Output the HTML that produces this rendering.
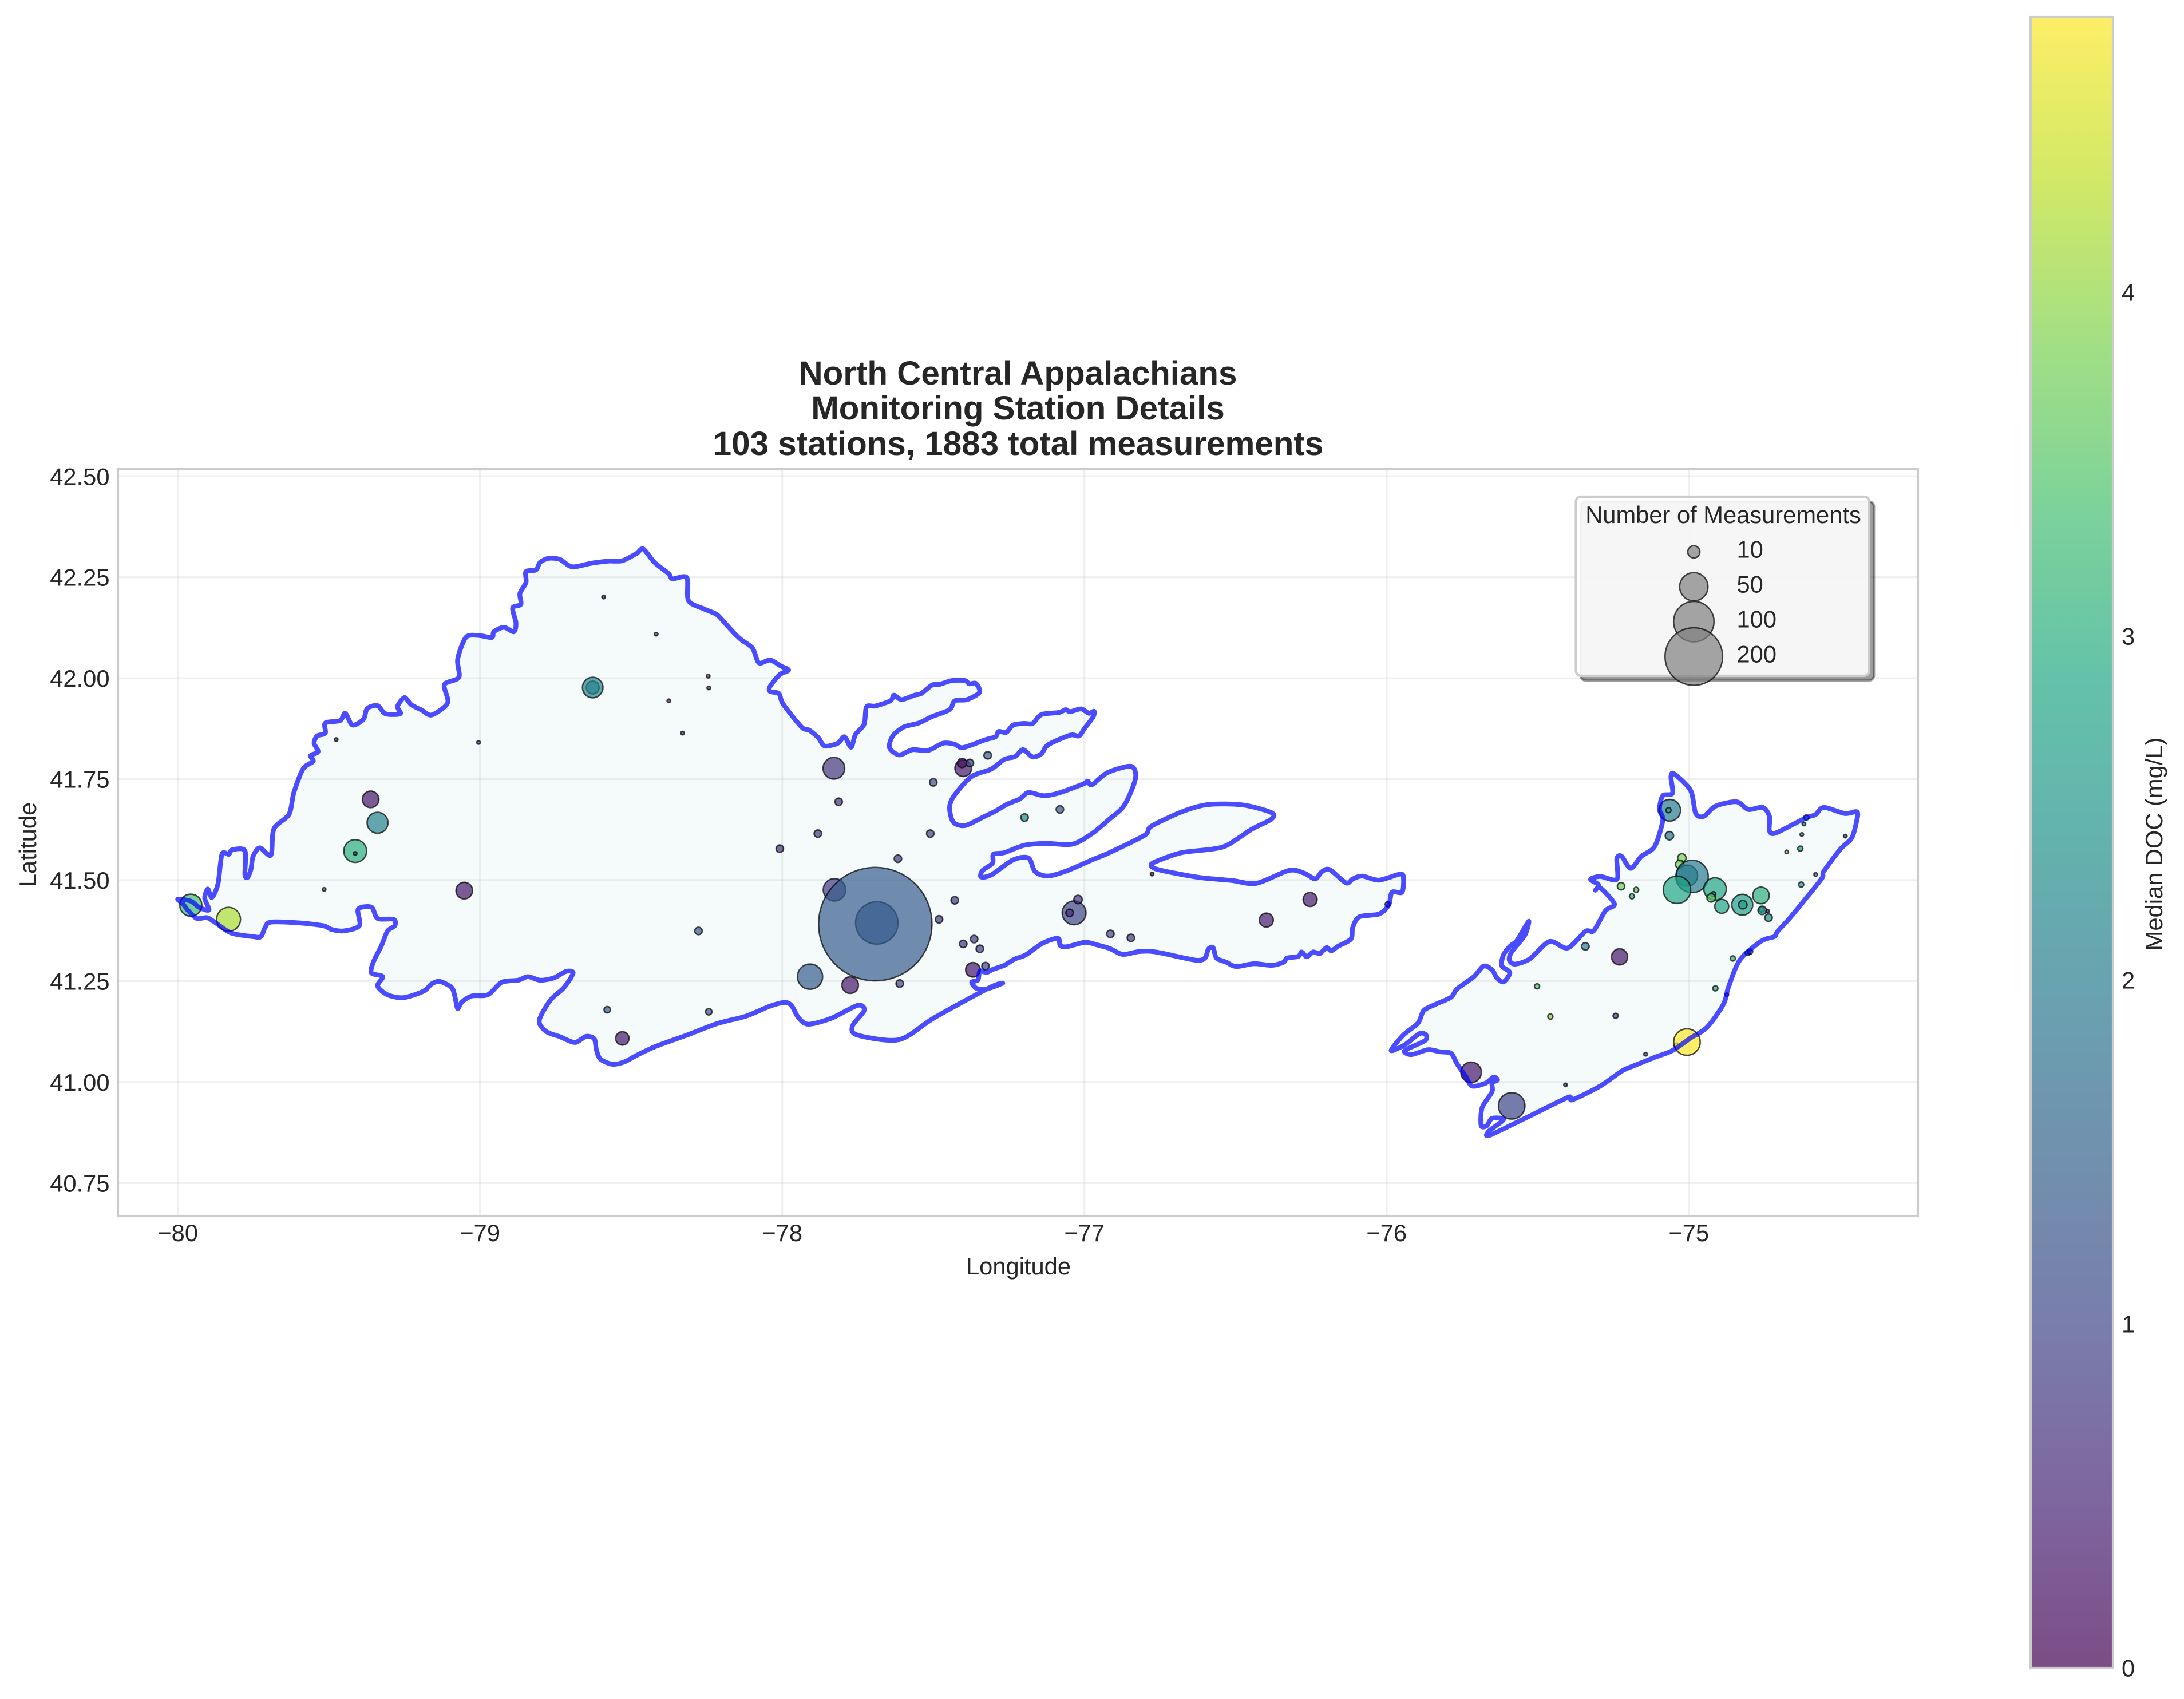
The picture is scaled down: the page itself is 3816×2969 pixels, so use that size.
<!DOCTYPE html>
<html lang="en">
<head>
<meta charset="utf-8">
<title>North Central Appalachians - Monitoring Station Details</title>
<style>
html,body{margin:0;padding:0;background:#fff;}
body{width:3816px;height:2969px;overflow:hidden;position:relative;}
svg{position:absolute;left:0;top:0;display:block;}
text{font-family:"Liberation Sans",Arial,sans-serif;fill:#262626;}
</style>
</head>
<body>
<svg id="chart" xmlns="http://www.w3.org/2000/svg" width="3816" height="2969" viewBox="0 0 3816 2969">
  <defs>
    <linearGradient id="viridis-gradient" x1="0" y1="1" x2="0" y2="0"></linearGradient>
  </defs>
  <rect x="0" y="0" width="3816" height="2969" fill="#ffffff"/>
  <g id="grid-layer"></g>
  <g id="fill-layer"></g>
  <g id="station-layer"></g>
  <g id="boundary-layer"></g>
  <rect x="206" y="820" width="3145" height="1305" fill="none" stroke="#cccccc" stroke-width="4.17"/>
  <g id="tick-layer" font-size="41.67"></g>

  <g font-size="58.33" font-weight="bold" text-anchor="middle">
    <text x="1778.5" y="672">North Central Appalachians</text>
    <text x="1778.5" y="733">Monitoring Station Details</text>
    <text x="1779" y="795">103 stations, 1883 total measurements</text>
  </g>
  <text x="1779.5" y="2227" font-size="41.67" text-anchor="middle">Longitude</text>
  <text x="0" y="0" font-size="41.67" text-anchor="middle" transform="translate(63 1476) rotate(-90)">Latitude</text>

  <g id="legend">
    <rect x="2761.8" y="876.3" width="512.5" height="313" rx="9" fill="#000000" fill-opacity="0.38" stroke="#000000" stroke-opacity="0.38" stroke-width="4.17"/>
    <rect x="2753.5" y="868" width="512.5" height="313" rx="9" fill="#ffffff" fill-opacity="0.9" stroke="#cccccc" stroke-width="4.17"/>
    <text x="3011" y="914" font-size="41.67" text-anchor="middle">Number of Measurements</text>
    <g id="legend-entries" font-size="41.67"></g>
  </g>

  <rect id="colorbar-ramp" x="3548" y="30" width="144" height="2885" fill="url(#viridis-gradient)" fill-opacity="0.7"/>
  <rect x="3548" y="30" width="144" height="2885" fill="none" stroke="#cccccc" stroke-width="4.17"/>
  <g id="colorbar-ticks" font-size="41.67"></g>
  <text x="0" y="0" font-size="41.67" text-anchor="middle" transform="translate(3778 1475) rotate(-90)">Median DOC (mg/L)</text>
</svg>

<script>
const xTicks = [-80, -79, -78, -77, -76, -75];
const yTicks = [40.75, 41.00, 41.25, 41.50, 41.75, 42.00, 42.25, 42.50];
const colorbarTicks = [0, 1, 2, 3, 4];
const legendCounts = [10, 50, 100, 200];
const docMax = 4.8;

const viridisStops = ['#440154','#482475','#414487','#355f8d','#2a788e','#21918c','#22a884','#44bf70','#7ad151','#bddf26','#fde725'];

const stationLon = [-79.957,-79.832,-79.516,-79.413,-79.413,-79.339,-79.362,-79.052,-79.005,-79.476,-78.591,-78.417,-78.245,-78.243,-78.375,-78.330,-78.627,-78.627,-78.277,-78.579,-78.243,-78.529,
-77.829,-77.813,-77.882,-78.008,-77.617,-77.500,-77.510,-77.401,-77.405,-77.379,-77.320,-77.198,-77.081,-76.776,-77.827,-77.687,-77.692,-77.908,-77.775,-77.611,-77.429,-77.481,-77.401,-77.365,-77.346,-77.369,-77.327,-77.034,-77.049,-77.021,-76.914,-76.846,-76.398,-76.253,-75.996,
-75.063,-75.067,-75.064,-75.023,-75.030,-75.006,-74.989,-75.039,-74.913,-74.891,-74.919,-74.926,-74.823,-74.821,-74.761,-74.758,-74.757,-74.739,-74.736,-75.224,-75.174,-75.188,-75.229,-74.854,-74.805,-74.797,-74.912,-74.874,-74.611,-74.619,-74.626,-74.631,-74.676,-74.482,-74.580,-74.628,
-75.342,-75.502,-75.458,-75.242,-75.143,-75.408,-75.039,-75.006,-75.720,-75.586];
const stationLat = [41.438,41.403,41.477,41.572,41.566,41.642,41.700,41.474,41.841,41.848,42.201,42.109,42.005,41.976,41.944,41.864,41.977,41.977,41.374,41.179,41.174,41.108,
41.777,41.694,41.615,41.578,41.553,41.742,41.615,41.777,41.790,41.790,41.809,41.655,41.675,41.515,41.476,41.394,41.391,41.261,41.240,41.244,41.450,41.403,41.342,41.354,41.330,41.278,41.287,41.419,41.419,41.452,41.367,41.357,41.401,41.452,41.440,
41.673,41.673,41.610,41.555,41.539,41.511,41.509,41.476,41.478,41.435,41.465,41.456,41.439,41.439,41.462,41.427,41.425,41.423,41.407,41.485,41.476,41.460,41.310,41.306,41.320,41.323,41.232,41.216,41.655,41.639,41.613,41.578,41.570,41.609,41.514,41.489,
41.336,41.237,41.162,41.164,41.069,40.993,41.090,41.099,41.024,40.941];
const stationCount = [31,36,1,33,1,28,18,18,1,1,1,1,1,1,1,1,11,27,4,3,3,12,
30,4,4,4,4,4,4,18,6,4,4,4,4,1,32,110,762,40,18,4,4,4,4,4,4,14,4,36,4,5,4,4,13,13,2,
30,2,5,5,5,29,65,47,32,13,2,5,28,5,18,2,5,1,4,4,2,2,17,2,2,2,2,1,2,1,1,2,1,1,1,2,
4,2,2,2,1,1,2,44,27,44];
const stationDoc = [3.3,4.2,1.0,3.0,1.0,2.1,0.3,0.3,1.0,0.5,0.5,0.7,0.5,0.8,0.5,0.8,2.3,2.1,1.3,1.3,1.1,0.3,
0.75,0.7,0.8,0.7,0.8,1.2,0.9,0.3,0.2,1.1,1.5,2.2,1.3,0.3,0.8,1.3,1.4,1.4,0.3,1.0,0.8,0.8,0.8,0.8,0.9,0.3,1.0,1.0,0.6,0.7,1.0,0.8,0.35,0.35,0.5,
2.0,2.8,1.8,3.8,3.8,2.1,2.0,2.8,2.8,2.8,2.0,3.6,2.7,2.6,3.0,2.5,2.5,0.3,2.3,3.7,3.5,3.0,0.3,3.0,2.0,1.2,3.0,1.0,3.0,2.0,2.0,2.7,3.9,0.9,1.3,2.6,
2.0,3.5,4.0,1.1,1.3,0.5,4.6,4.8,0.3,1.0];

const westBoundary = [[-79.9998,41.453],[-79.957,41.448],[-79.928,41.432],[-79.897,41.426],[-79.911,41.455],[-79.901,41.478],[-79.887,41.457],[-79.867,41.491],[-79.854,41.564],[-79.831,41.564],[-79.820,41.575],[-79.778,41.573],[-79.778,41.514],[-79.769,41.507],[-79.758,41.527],[-79.751,41.559],[-79.729,41.580],[-79.692,41.562],[-79.682,41.627],[-79.632,41.663],[-79.616,41.717],[-79.585,41.776],[-79.552,41.794],[-79.561,41.808],[-79.536,41.818],[-79.549,41.839],[-79.539,41.857],[-79.512,41.864],[-79.512,41.889],[-79.463,41.895],[-79.446,41.913],[-79.422,41.884],[-79.386,41.898],[-79.373,41.925],[-79.339,41.932],[-79.313,41.912],[-79.264,41.912],[-79.273,41.930],[-79.250,41.952],[-79.227,41.934],[-79.193,41.921],[-79.160,41.909],[-79.107,41.939],[-79.118,41.984],[-79.070,42.002],[-79.074,42.047],[-79.047,42.101],[-79.007,42.106],[-78.961,42.101],[-78.954,42.115],[-78.921,42.126],[-78.888,42.115],[-78.881,42.137],[-78.892,42.174],[-78.865,42.183],[-78.868,42.210],[-78.848,42.237],[-78.848,42.264],[-78.815,42.268],[-78.801,42.287],[-78.772,42.297],[-78.735,42.294],[-78.695,42.276],[-78.629,42.285],[-78.575,42.290],[-78.529,42.291],[-78.482,42.309],[-78.460,42.320],[-78.423,42.287],[-78.376,42.259],[-78.363,42.246],[-78.316,42.249],[-78.310,42.192],[-78.257,42.171],[-78.217,42.158],[-78.190,42.137],[-78.157,42.110],
[-78.135,42.095],[-78.098,42.074],[-78.077,42.038],[-78.040,42.045],[-78.004,42.030],[-77.979,42.020],[-78.008,42.009],[-78.040,41.980],[-78.040,41.967],[-78.011,41.962],[-77.997,41.936],[-77.936,41.879],[-77.910,41.871],[-77.881,41.853],[-77.859,41.832],[-77.816,41.839],[-77.794,41.855],[-77.772,41.829],[-77.758,41.860],[-77.729,41.886],[-77.721,41.929],[-77.692,41.931],[-77.642,41.944],[-77.630,41.958],[-77.605,41.947],[-77.562,41.958],[-77.540,41.962],[-77.504,41.983],[-77.478,41.985],[-77.439,41.994],[-77.395,41.994],[-77.381,41.986],[-77.359,41.987],[-77.347,41.965],[-77.388,41.947],[-77.429,41.944],[-77.446,41.922],[-77.504,41.905],[-77.548,41.889],[-77.598,41.879],[-77.634,41.857],[-77.645,41.828],[-77.613,41.810],[-77.569,41.823],[-77.518,41.821],[-77.468,41.839],[-77.431,41.837],[-77.402,41.828],[-77.330,41.847],[-77.294,41.855],[-77.284,41.868],[-77.258,41.866],[-77.236,41.884],[-77.200,41.888],[-77.171,41.888],[-77.142,41.910],[-77.084,41.915],[-77.062,41.922],[-77.047,41.917],[-77.011,41.924],[-76.985,41.913],[-76.968,41.918],[-76.971,41.904],[-77.000,41.875],[-77.018,41.857],[-77.047,41.859],[-77.120,41.835],[-77.142,41.813],[-77.171,41.805],[-77.203,41.823],[-77.229,41.806],[-77.265,41.799],[-77.308,41.775],[-77.374,41.756],[-77.431,41.709],[-77.446,41.680],[-77.434,41.644],[-77.395,41.635],[-77.330,41.658],[-77.294,41.671],[-77.258,41.687],[-77.214,41.701],[-77.185,41.717],[-77.134,41.709],[-77.084,41.716],[-77.004,41.738],[-76.989,41.745],[-76.975,41.736],[-76.924,41.766],[-76.847,41.782],[-76.830,41.759],[-76.845,41.720],[-76.873,41.680],[-76.917,41.651],[-76.975,41.615],[-77.040,41.589],[-77.127,41.591],[-77.200,41.586],[-77.265,41.568],[-77.301,41.564],[-77.304,41.542],[-77.337,41.524],[-77.342,41.508],[-77.308,41.513],[-77.236,41.550],[-77.185,41.555],[-77.163,41.521],[-77.120,41.510],[-77.055,41.524],[-76.975,41.550],[-76.917,41.568],[-76.801,41.611],[-76.779,41.633],[-76.678,41.669],[-76.591,41.687],[-76.475,41.686],[-76.381,41.667],[-76.381,41.651],[-76.446,41.626],[-76.526,41.587],[-76.576,41.577],[-76.678,41.568],[-76.750,41.550],[-76.779,41.539],[-76.765,41.528],[-76.699,41.517],[-76.613,41.506],[-76.511,41.499],[-76.431,41.492],[-76.323,41.524],[-76.272,41.517],[-76.236,41.503],[-76.214,41.521],[-76.188,41.526],[-76.134,41.493],
[-76.112,41.503],[-76.080,41.510],[-76.025,41.500],[-75.954,41.515],[-75.944,41.503],[-75.949,41.470],[-75.982,41.470],[-75.993,41.438],[-76.025,41.416],[-76.090,41.409],[-76.112,41.383],[-76.118,41.354],[-76.161,41.336],[-76.183,41.325],[-76.199,41.333],[-76.221,41.318],[-76.243,41.322],[-76.264,41.310],[-76.281,41.322],[-76.292,41.311],[-76.330,41.307],[-76.340,41.297],[-76.379,41.289],[-76.438,41.293],[-76.498,41.286],[-76.531,41.297],[-76.563,41.307],[-76.574,41.333],[-76.590,41.329],[-76.601,41.307],[-76.634,41.302],[-76.764,41.322],[-76.819,41.323],[-76.873,41.316],[-76.917,41.331],[-76.960,41.340],[-76.998,41.346],[-77.058,41.335],[-77.080,41.338],[-77.088,41.356],[-77.140,41.343],[-77.194,41.315],[-77.232,41.304],[-77.265,41.289],[-77.303,41.279],[-77.324,41.271],[-77.346,41.275],[-77.352,41.253],[-77.373,41.247],[-77.357,41.232],[-77.324,41.230],[-77.270,41.245],[-77.316,41.233],
[-77.497,41.159],[-77.613,41.105],[-77.750,41.116],[-77.768,41.138],[-77.729,41.177],[-77.750,41.190],[-77.837,41.158],[-77.913,41.143],[-77.946,41.159],[-77.968,41.188],[-77.990,41.197],[-78.040,41.188],[-78.120,41.163],[-78.214,41.145],[-78.316,41.116],[-78.416,41.089],[-78.482,41.066],[-78.522,41.050],[-78.562,41.044],[-78.602,41.057],[-78.615,41.080],[-78.622,41.107],[-78.649,41.113],[-78.686,41.098],[-78.735,41.112],[-78.781,41.125],[-78.804,41.152],[-78.768,41.202],[-78.722,41.234],[-78.692,41.270],[-78.715,41.274],[-78.755,41.258],[-78.801,41.252],[-78.841,41.261],[-78.874,41.252],[-78.928,41.247],[-78.974,41.216],[-79.027,41.213],[-79.060,41.198],[-79.074,41.182],[-79.083,41.211],[-79.094,41.234],[-79.133,41.249],[-79.160,41.243],[-79.187,41.225],[-79.253,41.209],[-79.306,41.216],[-79.339,41.238],[-79.322,41.261],[-79.359,41.270],[-79.353,41.297],[-79.326,41.338],[-79.306,41.374],[-79.282,41.387],[-79.286,41.403],[-79.339,41.405],[-79.359,41.433],[-79.403,41.428],[-79.399,41.387],[-79.452,41.374],[-79.492,41.378],[-79.519,41.387],[-79.598,41.394],[-79.692,41.396],[-79.711,41.383],[-79.725,41.360],[-79.751,41.360],[-79.824,41.369],[-79.878,41.396],[-79.904,41.407],[-79.937,41.405],[-79.964,41.423],[-79.984,41.442]];

const eastBoundary = [[-75.985,41.078],[-75.945,41.116],[-75.896,41.146],[-75.877,41.177],[-75.836,41.193],[-75.787,41.210],[-75.766,41.231],[-75.711,41.261],[-75.679,41.287],[-75.651,41.278],[-75.635,41.258],[-75.613,41.248],[-75.592,41.271],[-75.619,41.288],[-75.613,41.315],[-75.592,41.336],[-75.570,41.349],[-75.548,41.376],[-75.529,41.398],[-75.543,41.363],[-75.586,41.322],[-75.594,41.302],[-75.575,41.292],[-75.526,41.305],[-75.461,41.348],[-75.401,41.332],[-75.342,41.373],[-75.314,41.375],[-75.276,41.424],[-75.246,41.441],[-75.293,41.481],[-75.309,41.475],[-75.298,41.488],[-75.325,41.502],[-75.293,41.509],[-75.238,41.502],[-75.238,41.553],[-75.222,41.559],[-75.192,41.529],[-75.157,41.559],[-75.113,41.583],[-75.086,41.648],[-75.097,41.675],[-75.086,41.709],[-75.054,41.715],[-75.059,41.756],[-75.048,41.763],[-74.994,41.722],[-74.977,41.665],[-74.950,41.658],[-74.912,41.683],[-74.842,41.694],[-74.803,41.675],[-74.755,41.680],[-74.733,41.658],[-74.733,41.622],[-74.711,41.617],[-74.613,41.654],[-74.581,41.662],[-74.553,41.680],[-74.483,41.665],[-74.443,41.669],[-74.445,41.644],[-74.461,41.604],[-74.499,41.576],[-74.553,41.522],[-74.559,41.505],[-74.613,41.454],[-74.668,41.404],[-74.706,41.373],[-74.717,41.360],[-74.760,41.349],[-74.831,41.302],[-74.869,41.234],[-74.885,41.193],[-74.939,41.136],[-74.994,41.109],[-75.054,41.078],[-75.113,41.061],[-75.179,41.041],[-75.222,41.027],[-75.293,40.990],[-75.385,40.956],[-75.396,40.963],[-75.472,40.936],[-75.537,40.912],[-75.659,40.868],[-75.662,40.878],[-75.613,40.907],[-75.651,40.910],[-75.668,40.892],[-75.687,40.892],[-75.684,40.936],[-75.651,40.976],[-75.651,40.997],[-75.633,41.005],[-75.646,41.012],[-75.673,40.997],[-75.717,40.990],[-75.738,41.014],[-75.766,41.044],[-75.787,41.071],[-75.825,41.075],[-75.863,41.080],[-75.918,41.068],[-75.940,41.078],[-75.874,41.102],[-75.869,41.116],[-75.891,41.120],[-75.940,41.092]];

function xAxis(lon){ return 310.7 + (lon + 80) * 528; }
function yAxis(lat){ return 832.3 + (42.5 - lat) * 705.7; }
function cbAxis(v){ return 2915 - v * 601; }
function radius(n){ return Math.sqrt(13.15 * n + 4) - 1; }

function hexToRgb(h){ return [parseInt(h.slice(1,3),16), parseInt(h.slice(3,5),16), parseInt(h.slice(5,7),16)]; }
function viridis(t){
  t = Math.max(0, Math.min(1, t));
  const p = t * (viridisStops.length - 1);
  const i = Math.min(Math.floor(p), viridisStops.length - 2);
  const f = p - i;
  const a = hexToRgb(viridisStops[i]);
  const b = hexToRgb(viridisStops[i + 1]);
  const c = a.map(function(v, k){ return Math.round(v + (b[k] - v) * f); });
  return 'rgb(' + c.join(',') + ')';
}

const NS = 'http://www.w3.org/2000/svg';
function make(tag, attrs, parent){
  const el = document.createElementNS(NS, tag);
  Object.keys(attrs).forEach(function(k){ el.setAttribute(k, attrs[k]); });
  parent.appendChild(el);
  return el;
}
function label(v){ return String(v).replace('-', '\u2212'); }

const gridLayer = document.getElementById('grid-layer');
const tickLayer = document.getElementById('tick-layer');

xTicks.forEach(function(t){
  const line = make('line', {x1:xAxis(t), x2:xAxis(t), y1:820, y2:2125, stroke:'#cccccc', 'stroke-opacity':0.3, 'stroke-width':3.33}, gridLayer);
  
  
  const txt = make('text', {x:xAxis(t), y:2169, 'text-anchor':'middle'}, tickLayer);
  
  
  txt.textContent = label(t);
});
yTicks.forEach(function(t){
  const line = make('line', {x1:206, x2:3351, y1:yAxis(t), y2:yAxis(t), stroke:'#cccccc', 'stroke-opacity':0.3, 'stroke-width':3.33}, gridLayer);
  
  
  const txt = make('text', {x:191.5, y:yAxis(t) + 15, 'text-anchor':'end'}, tickLayer);
  
  
  txt.textContent = t.toFixed(2);
});

function smoothPath(points){
  const pts = points.map(function(p){ return [xAxis(p[0]), yAxis(p[1])]; });
  const n = pts.length;
  const k = 0.85 / 6;
  let d = 'M' + pts[0][0].toFixed(1) + ' ' + pts[0][1].toFixed(1);
  for (let i = 0; i < n; i++) {
    const p0 = pts[(i - 1 + n) % n];
    const p1 = pts[i];
    const p2 = pts[(i + 1) % n];
    const p3 = pts[(i + 2) % n];
    d += 'C' + (p1[0] + (p2[0] - p0[0]) * k).toFixed(1) + ' ' + (p1[1] + (p2[1] - p0[1]) * k).toFixed(1) + ' '
       + (p2[0] - (p3[0] - p1[0]) * k).toFixed(1) + ' ' + (p2[1] - (p3[1] - p1[1]) * k).toFixed(1) + ' '
       + p2[0].toFixed(1) + ' ' + p2[1].toFixed(1);
  }
  return d + 'Z';
}
const fillLayer = document.getElementById('fill-layer');
const boundaryLayer = document.getElementById('boundary-layer');
[westBoundary, eastBoundary].forEach(function(points, i){
  const d = smoothPath(points);
  const area = make('path', {d:d, fill:'#a0dcdc', 'fill-opacity':0.1}, fillLayer);
  
  
  const outline = make('path', {d:d, fill:'none', stroke:'#0000ff', 'stroke-opacity':0.7, 'stroke-width':8.33, 'stroke-linejoin':'round', 'stroke-linecap':'round'}, boundaryLayer);
  
  
});

const stationLayer = document.getElementById('station-layer');
stationLon.forEach(function(lon, i){
  const c = make('circle', {cx:xAxis(lon).toFixed(1), cy:yAxis(stationLat[i]).toFixed(1), r:radius(stationCount[i]).toFixed(2), fill:viridis(stationDoc[i] / docMax), 'fill-opacity':0.7, stroke:'#000000', 'stroke-opacity':0.7, 'stroke-width':2.5}, stationLayer);
  
  
});

const legendEntries = document.getElementById('legend-entries');
legendCounts.forEach(function(n, i){
  const cy = 964.3 + i * 61;
  const c = make('circle', {cx:2959.5, cy:cy, r:radius(n).toFixed(2), fill:'#808080', 'fill-opacity':0.7, stroke:'#000000', 'stroke-opacity':0.7, 'stroke-width':2.5}, legendEntries);
  
  
  const t = make('text', {x:3034.5, y:cy + 10}, legendEntries);
  
  
  t.textContent = String(n);
});

const grad = document.getElementById('viridis-gradient');
viridisStops.forEach(function(col, i){
  make('stop', {offset:(i / (viridisStops.length - 1)), 'stop-color':col}, grad);
});
const cbTicks = document.getElementById('colorbar-ticks');
colorbarTicks.forEach(function(v){
  const t = make('text', {x:3707, y:cbAxis(v) + 14.5}, cbTicks);
  
  
  t.textContent = String(v);
});
</script>
</body>
</html>
